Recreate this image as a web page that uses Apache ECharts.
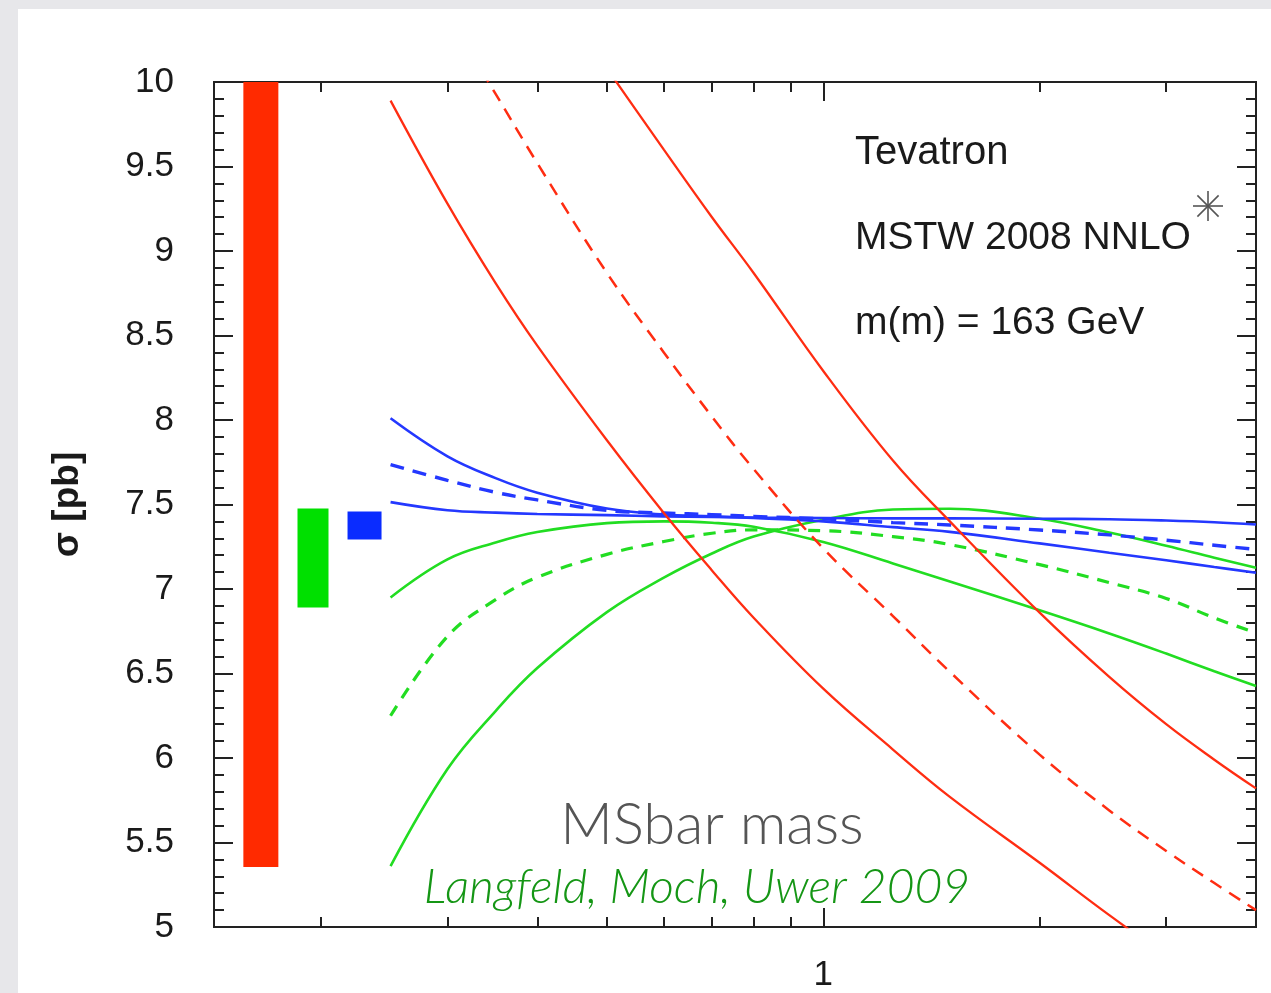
<!DOCTYPE html>
<html>
<head>
<meta charset="utf-8">
<style>
  html, body { margin: 0; padding: 0; width: 1271px; height: 993px; overflow: hidden; background: #e7e7ea; }
  #panel { position: absolute; left: 18px; top: 9px; right: 0; bottom: 0; background: #ffffff; }
  #chart { position: absolute; left: 0; top: 0; width: 1271px; height: 993px; }
</style>
<script src="https://cdn.jsdelivr.net/npm/echarts@6/dist/echarts.min.js"></script>
</head>
<body>
<div id="panel"></div>
<div id="chart"></div>
<script>
// Scale choice mu/m (log axis) and the cross sections in pb
const mu = [0.25, 0.3, 0.35, 0.4, 0.5, 0.6, 0.7, 0.8, 1, 1.25, 1.5, 2, 2.5, 3, 3.5, 4];

// LO (red)
const loLow     = [9.89, 9.28, 8.81, 8.44, 7.88, 7.45, 7.11, 6.83, 6.41, 6.05, 5.77, 5.38, 5.07, 4.83, null, null];
const loCentral = [null, 10.40, 9.93, 9.52, 8.87, 8.40, 8.02, 7.71, 7.24, 6.84, 6.51, 6.02, 5.69, 5.45, 5.26, 5.10];
const loHigh    = [null, null, null, 10.66, 10.08, 9.60, 9.20, 8.87, 8.29, 7.76, 7.40, 6.86, 6.48, 6.20, 5.99, 5.82];

// NLO (green)
const nloA       = [6.95, 7.175, 7.275, 7.337, 7.39, 7.40, 7.392, 7.368, 7.278, 7.151, 7.044, 6.874, 6.737, 6.618, 6.513, 6.426];
const nloCentral = [6.25, 6.72, 6.937, 7.069, 7.205, 7.281, 7.33, 7.35, 7.345, 7.31, 7.263, 7.144, 7.038, 6.944, 6.829, 6.74];
const nloB       = [5.36, 5.935, 6.278, 6.532, 6.863, 7.067, 7.21, 7.31, 7.41, 7.47, 7.475, 7.416, 7.334, 7.256, 7.185, 7.126];

// NNLO (blue)
const nnloA       = [8.01, 7.785, 7.656, 7.57, 7.476, 7.44, 7.43, 7.42, 7.40, 7.366, 7.338, 7.27, 7.215, 7.17, 7.13, 7.096];
const nnloCentral = [7.736, 7.643, 7.572, 7.527, 7.465, 7.45, 7.44, 7.43, 7.415, 7.393, 7.379, 7.349, 7.32, 7.289, 7.259, 7.234];
const nnloB       = [7.514, 7.466, 7.452, 7.444, 7.437, 7.43, 7.426, 7.423, 7.42, 7.418, 7.418, 7.416, 7.413, 7.405, 7.395, 7.382];

// Scale-uncertainty bands per order: position on the mu axis, lower and upper cross section
const bandOrder = ['LO', 'NLO', 'NNLO'];
const bandPos   = [0.165, 0.195, 0.23];
const bandLow   = [5.355, 6.891, 7.293];
const bandHigh  = [10, 7.476, 7.459];

// Axis ticks
const xMinorTicks = [0.2, 0.3, 0.4, 0.5, 0.6, 0.7, 0.8, 0.9, 2, 3];
const xMajorTicks = [1];
const xRange = [0.142, 4];
const yRange = [5, 10];
const yStep = 0.5;

const RED = '#ff2d12', GREEN = '#22dd22', BLUE = '#2438ff';
const bandColors = ['#ff2a00', '#00e000', '#0a2cff'];
const bandWidths = [35, 31, 34];
const AXIS = '#222222';
const FONT = '"Liberation Sans", Arial, Helvetica, sans-serif';
const SLIDE_FONT = 'Lato, "Open Sans", sans-serif';

const pairs = vals => mu.map((m, i) => [m, vals[i]]);

const chart = echarts.init(document.getElementById('chart'), null, { renderer: 'canvas' });

function xAxisDef(position, ticks, len, withLabel) {
  return {
    type: 'log', logBase: 10, position: position,
    min: xRange[0], max: xRange[1],
    axisLine: { show: true, onZero: false, lineStyle: { color: AXIS, width: 2 } },
    axisTick: { show: true, inside: true, length: len, customValues: ticks, lineStyle: { color: AXIS, width: 2 } },
    axisLabel: withLabel ? {
      show: true, customValues: xMajorTicks, formatter: v => String(Math.round(v)),
      fontFamily: FONT, fontSize: 35, color: '#1a1a1a', margin: 31
    } : { show: false },
    splitLine: { show: false }, minorTick: { show: false }
  };
}

function yAxisDef(position, withLabel) {
  return {
    type: 'value', position: position, min: yRange[0], max: yRange[1], interval: yStep,
    axisLine: { show: true, onZero: false, lineStyle: { color: AXIS, width: 2 } },
    axisTick: { show: true, inside: true, length: 19, lineStyle: { color: AXIS, width: 2 } },
    minorTick: { show: true, splitNumber: 5, length: 10, lineStyle: { color: AXIS, width: 2 } },
    axisLabel: withLabel ? { show: true, fontFamily: FONT, fontSize: 35, color: '#1a1a1a', margin: 40 } : { show: false },
    splitLine: { show: false },
    name: withLabel ? 'σ [pb]' : '',
    nameLocation: 'middle', nameRotate: 90, nameGap: 128,
    nameTextStyle: { fontFamily: FONT, fontSize: 37, fontWeight: 'bold', color: '#1a1a1a' }
  };
}

function curve(name, vals, color, width, dash, z) {
  return {
    name: name, type: 'line', xAxisIndex: 0, yAxisIndex: 0,
    data: pairs(vals), smooth: 0.4, showSymbol: false, symbol: 'none', clip: true,
    connectNulls: false, z: z,
    lineStyle: { color: color, width: width, type: dash || 'solid', cap: 'butt' }
  };
}

const option = {
  backgroundColor: 'transparent',
  animation: false,
  grid: { left: 214, right: 15, top: 82, bottom: 65 },
  xAxis: [
    xAxisDef('bottom', xMinorTicks, 10, false),
    xAxisDef('bottom', xMajorTicks, 19, true),
    xAxisDef('top', xMinorTicks, 10, false),
    xAxisDef('top', xMajorTicks, 19, false)
  ],
  yAxis: [yAxisDef('left', true), yAxisDef('right', false)],
  series: [
    {
      name: 'bands', type: 'custom', xAxisIndex: 0, yAxisIndex: 0, clip: true, z: 2,
      data: bandOrder.map((o, i) => [bandPos[i], bandLow[i], bandHigh[i]]),
      encode: { x: 0, y: [1, 2] },
      renderItem: function (params, api) {
        const i = params.dataIndex;
        const top = api.coord([api.value(0), api.value(2)]);
        const bot = api.coord([api.value(0), api.value(1)]);
        const w = bandWidths[i];
        return {
          type: 'rect',
          shape: { x: top[0] - w / 2, y: top[1], width: w, height: bot[1] - top[1] },
          style: { fill: bandColors[i] }
        };
      }
    },
    curve('NLO a', nloA, GREEN, 2.6, null, 3),
    curve('NLO central', nloCentral, GREEN, 3.2, [12, 9], 3),
    curve('NLO b', nloB, GREEN, 2.6, null, 3),
    curve('NNLO a', nnloA, BLUE, 2.6, null, 4),
    curve('NNLO b', nnloB, BLUE, 2.6, null, 4),
    curve('NNLO central', nnloCentral, BLUE, 3.4, [14, 9], 4),
    curve('LO low', loLow, RED, 2.3, null, 5),
    curve('LO central', loCentral, RED, 2.5, [13, 9], 5),
    curve('LO high', loHigh, RED, 2.3, null, 5)
  ],
  graphic: [
    { type: 'text', x: 855, y: 153, z: 10, style: { text: 'Tevatron', font: '40px ' + FONT, fill: '#1a1a1a', textAlign: 'left', textVerticalAlign: 'middle' } },
    { type: 'text', x: 855, y: 238, z: 10, style: { text: 'MSTW 2008 NNLO', font: '39px ' + FONT, fill: '#1a1a1a', textAlign: 'left', textVerticalAlign: 'middle' } },
    { type: 'text', x: 855, y: 323, z: 10, style: { text: 'm(m) = 163 GeV', font: '39px ' + FONT, fill: '#1a1a1a', textAlign: 'left', textVerticalAlign: 'middle' } },
    {
      type: 'group', x: 1208, y: 206, z: 10,
      children: [0, 45, 90, 135].map(a => {
        const r = 15, t = a * Math.PI / 180;
        return { type: 'line', shape: { x1: -r * Math.cos(t), y1: -r * Math.sin(t), x2: r * Math.cos(t), y2: r * Math.sin(t) }, style: { stroke: '#555555', lineWidth: 1.6 } };
      })
    },
    { type: 'text', x: 712, y: 825, z: 10, style: { text: 'MSbar mass', font: '300 58px ' + SLIDE_FONT, fill: '#555555', textAlign: 'center', textVerticalAlign: 'middle' } },
    { type: 'text', x: 697, y: 888, z: 10, style: { text: 'Langfeld, Moch, Uwer 2009', font: 'italic 300 48px ' + SLIDE_FONT, fill: '#159615', textAlign: 'center', textVerticalAlign: 'middle' } }
  ]
};

chart.setOption(option);
</script>
</body>
</html>
